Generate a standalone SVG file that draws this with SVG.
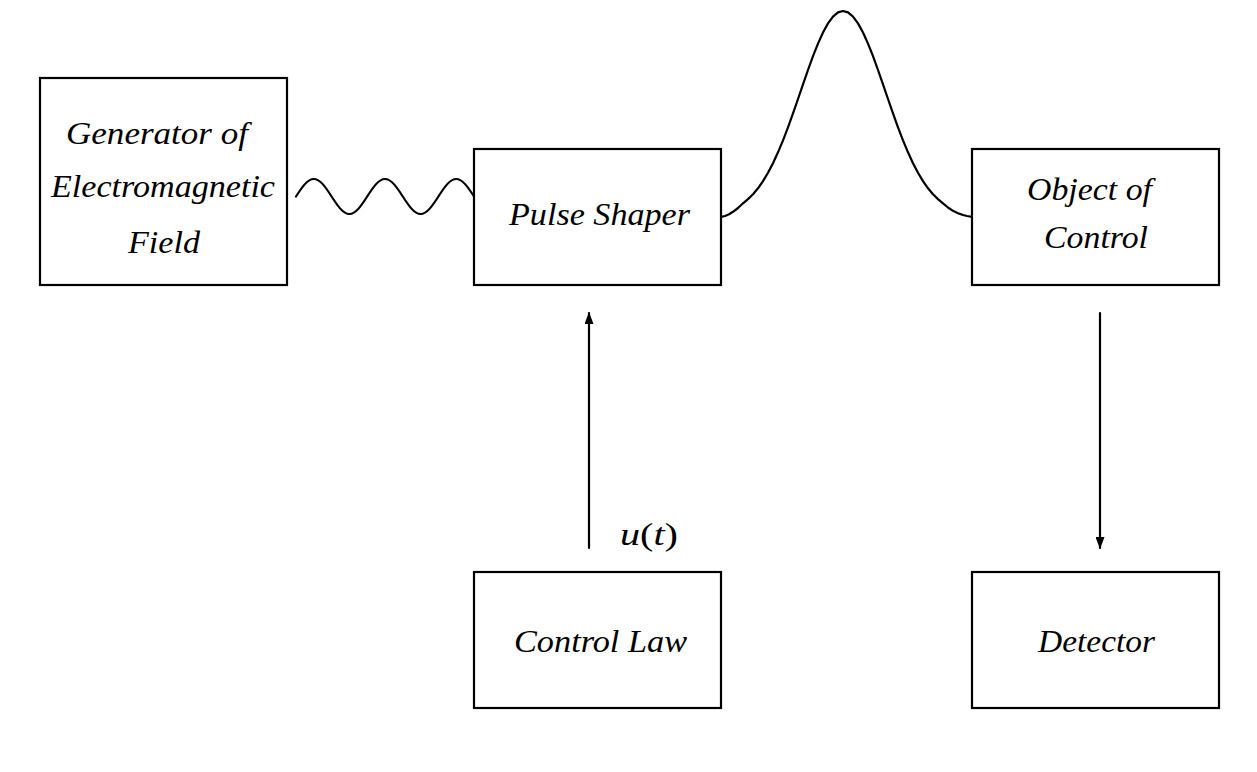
<svg xmlns="http://www.w3.org/2000/svg" width="1257" height="772" viewBox="0 0 1257 772">
<style>
.box{fill:#fff;stroke:#000;stroke-width:2.2}
.lbl{font-family:"Liberation Serif","Times New Roman",serif;font-style:italic;font-size:32px;fill:#000}
.up{font-style:normal}
.wire{fill:none;stroke:#000;stroke-width:2.2;stroke-linejoin:round;stroke-linecap:round}
</style>
<defs>
<marker id="ah" viewBox="0 0 12 9" refX="11" refY="4.5" markerWidth="12" markerHeight="9" markerUnits="userSpaceOnUse" orient="auto">
<path d="M0,0 L12,4.5 L0,9 z" fill="#000"/>
</marker>
</defs>
<rect width="1257" height="772" fill="#fff"/>
<g id="connectors">
<path class="wire" d="M296,196.5 C301.8,187.53 307.36,179 313.8,179 C320.24,179 325.8,187.53 331.6,196.5 C337.4,205.47 342.96,214 349.4,214 C355.84,214 361.4,205.47 367.2,196.5 C373,187.53 378.56,179 385,179 C391.44,179 397,187.53 402.8,196.5 C408.6,205.47 414.16,214 420.6,214 C427.04,214 432.6,205.47 438.4,196.5 C444.2,187.53 449.76,179 456.2,179 C462.64,179 468.2,187.53 474,196.5"/>
<polyline class="wire" points="721,216.8 725,216 729,214.3 733,211.8 738,208 743,203.3 748,199.1 753,194.2 758,188.3 763,181.1 768,172.8 773,163.2 778,152.3 783,140.3 788,127.3 793,113.4 798,99 803,84.3 808,70 813,56.2 818,43.6 823,32.5 828,23.4 833,16.6 838,12.4 843,11 848,12.4 853,16.6 858,23.4 863,32.5 868,43.6 873,56.2 878,70 883,84.3 888,99 893,113.4 898,127.3 903,140.3 908,152.3 913,163.2 918,172.8 923,181.1 928,188.3 933,194.2 938,199.1 943,203.3 948,207.5 953,210.8 958,213.2 963,215 967,216 972,216.8"/>
<line class="wire" x1="589" y1="548" x2="589" y2="313" marker-end="url(#ah)"/>
<line class="wire" x1="1100" y1="313" x2="1100" y2="548" marker-end="url(#ah)"/>
<text class="lbl" x="620" y="545" textLength="58" lengthAdjust="spacingAndGlyphs">u<tspan class="up">(</tspan>t<tspan class="up">)</tspan></text>
</g>
<g id="generator">
<rect class="box" x="40" y="78" width="247" height="207"/>
<text class="lbl" x="66" y="144" textLength="182" lengthAdjust="spacingAndGlyphs">Generator  of</text>
<text class="lbl" x="51" y="197" textLength="224" lengthAdjust="spacingAndGlyphs">Electromagnetic</text>
<text class="lbl" x="128" y="253" textLength="72" lengthAdjust="spacingAndGlyphs">Field</text>
</g>
<g id="pulse-shaper">
<rect class="box" x="474" y="149" width="247" height="136"/>
<text class="lbl" x="509" y="225" textLength="181" lengthAdjust="spacingAndGlyphs">Pulse  Shaper</text>
</g>
<g id="object-of-control">
<rect class="box" x="972" y="149" width="247" height="136"/>
<text class="lbl" x="1027" y="200" textLength="125" lengthAdjust="spacingAndGlyphs">Object  of</text>
<text class="lbl" x="1044" y="248" textLength="104" lengthAdjust="spacingAndGlyphs">Control</text>
</g>
<g id="control-law">
<rect class="box" x="474" y="572" width="247" height="136"/>
<text class="lbl" x="514" y="652" textLength="173" lengthAdjust="spacingAndGlyphs">Control  Law</text>
</g>
<g id="detector">
<rect class="box" x="972" y="572" width="247" height="136"/>
<text class="lbl" x="1038" y="652" textLength="117" lengthAdjust="spacingAndGlyphs">Detector</text>
</g>
</svg>
